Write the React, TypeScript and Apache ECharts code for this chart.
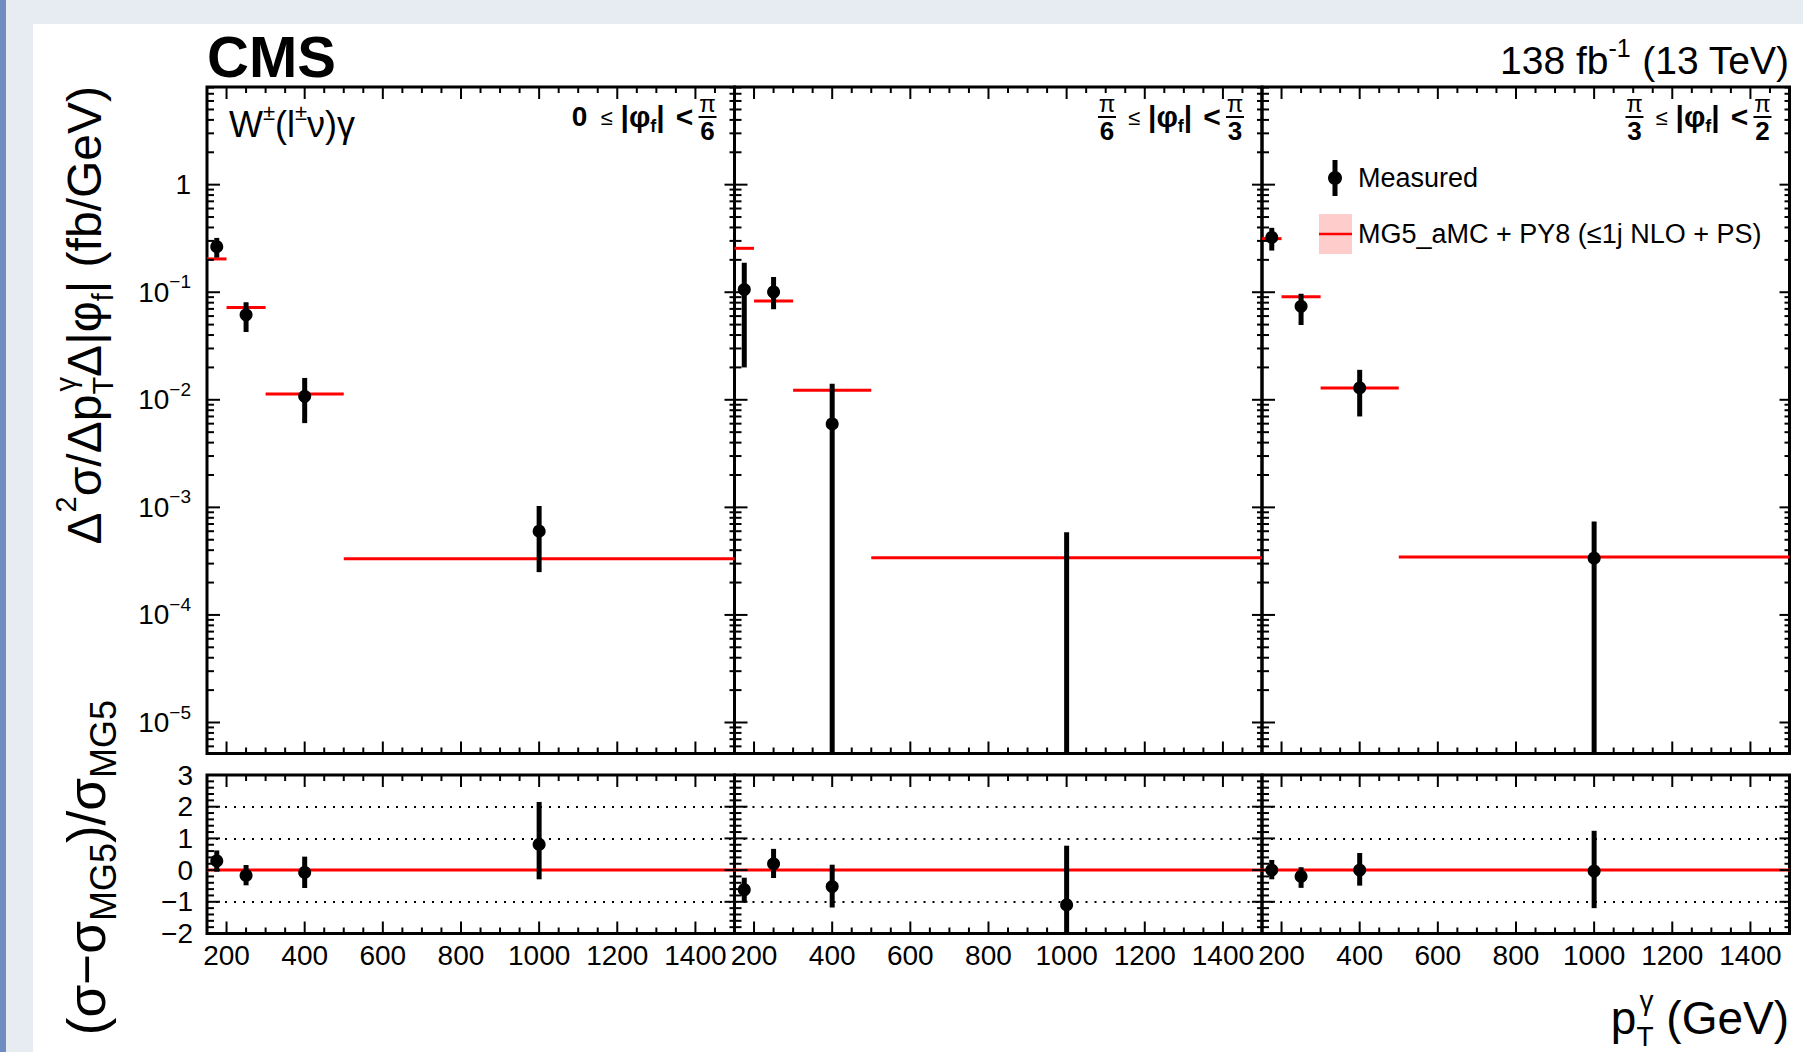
import React, { useEffect, useRef } from 'react';
import * as echarts from 'echarts';

const FONT = '"Liberation Sans", Arial, Helvetica, sans-serif';

// ---------- data ----------
const binEdges = [150, 200, 300, 500, 1500];
const binCenters = [175, 250, 400, 1000];
const xTickLabels = [200, 400, 600, 800, 1000, 1200, 1400];
const yDecades = [1e-5, 1e-4, 1e-3, 1e-2, 1e-1, 1];
const ratioTickLabels = [-2, -1, 0, 1, 2, 3];

const X_MIN = 150, X_MAX = 1500;
const Y_MIN = 5.15e-6, Y_MAX = 8.09;
const R_MIN = -2, R_MAX = 3;

// panel 1 : 0 <= |phi_f| < pi/6
const mc1 = [0.204, 0.072, 0.01135, 3.33e-4];
const meas1 = [0.265, 0.0617, 0.01077, 6.0e-4];
const measUp1 = [0.055, 0.019, 0.0052, 4.3e-4];
const measDn1 = [0.055, 0.019, 0.0047, 3.5e-4];
const ratio1 = [0.29, -0.17, -0.075, 0.81];
const ratioUp1 = [0.33, 0.33, 0.5, 1.34];
const ratioDn1 = [0.34, 0.31, 0.49, 1.1];

// panel 2 : pi/6 <= |phi_f| < pi/3
const mc2 = [0.256, 0.083, 0.01225, 3.41e-4];
const meas2 = [0.106, 0.1005, 0.00597, -3.4e-5];
const measUp2 = [0.082, 0.038, 0.0081, 6.2e-4];
const measDn2 = [0.086, 0.031, 0.0081, 6.2e-4];
const ratio2 = [-0.62, 0.2, -0.52, -1.1];
const ratioUp2 = [0.38, 0.47, 0.69, 1.87];
const ratioDn2 = [0.37, 0.45, 0.66, 1.87];

// panel 3 : pi/3 <= |phi_f| < pi/2
const mc3 = [0.315, 0.0908, 0.0129, 3.45e-4];
const meas3 = [0.323, 0.074, 0.0129, 3.37e-4];
const measUp3 = [0.074, 0.0228, 0.0061, 4.0e-4];
const measDn3 = [0.079, 0.0244, 0.0059, 4.0e-4];
const ratio3 = [0.0, -0.2, 0.0, -0.03];
const ratioUp3 = [0.32, 0.29, 0.54, 1.27];
const ratioDn3 = [0.29, 0.36, 0.49, 1.17];

const panelFracLeft = [null, '6', '3'];
const panelFracRight = ['6', '3', '2'];

const panels = [
  { mc: mc1, meas: meas1, up: measUp1, dn: measDn1, r: ratio1, rUp: ratioUp1, rDn: ratioDn1 },
  { mc: mc2, meas: meas2, up: measUp2, dn: measDn2, r: ratio2, rUp: ratioUp2, rDn: ratioDn2 },
  { mc: mc3, meas: meas3, up: measUp3, dn: measDn3, r: ratio3, rUp: ratioUp3, rDn: ratioDn3 },
];

// ---------- layout ----------
const PANEL_LEFT = [207, 734.5, 1262];
const PANEL_W = 527.5;
const MAIN_TOP = 87, MAIN_H = 666.5;
const RATIO_TOP = 775, RATIO_H = 158.5;

const TICK_LEN = [13, 7, 10, 5, 12, 6, 12, 6];

function tickRender(params: any, api: any) {
  const k = api.value(2);
  const p = api.coord([api.value(0), api.value(1)]);
  let dx = 0, dy = 0;
  if (k === 0 || k === 1) dx = TICK_LEN[k];
  else if (k === 2 || k === 3) dx = -TICK_LEN[k];
  else if (k === 4 || k === 5) dy = -TICK_LEN[k];
  else dy = TICK_LEN[k];
  return {
    type: 'line',
    shape: { x1: p[0], y1: p[1], x2: p[0] + dx, y2: p[1] + dy },
    style: { stroke: '#000', lineWidth: 2 },
  };
}

function errRender(yMin: number, yMax: number) {
  return (params: any, api: any) => {
    const x = api.value(0), lo = api.value(1), hi = api.value(2), y = api.value(3);
    const a = api.coord([x, lo]);
    const b = api.coord([x, hi]);
    const children: any[] = [
      { type: 'line', shape: { x1: a[0], y1: a[1], x2: b[0], y2: b[1] }, style: { stroke: '#000', lineWidth: 5 } },
    ];
    if (y > yMin && y < yMax) {
      const c = api.coord([x, y]);
      children.push({ type: 'circle', shape: { cx: c[0], cy: c[1], r: 6.5 }, style: { fill: '#000' } });
    }
    return { type: 'group', children };
  };
}

function mcRender(params: any, api: any) {
  const v = api.value(2);
  const a = api.coord([api.value(0), v]);
  const b = api.coord([api.value(1), v]);
  return {
    type: 'line',
    shape: { x1: a[0], y1: a[1], x2: b[0], y2: b[1] },
    style: { stroke: '#ff0000', lineWidth: 3 },
  };
}

function xTicks(yBottom: number, yTop: number) {
  const out: number[][] = [];
  for (let v = X_MIN; v <= X_MAX; v += 50) {
    const major = v % 200 === 0;
    out.push([v, yBottom, major ? 4 : 5]);
    out.push([v, yTop, major ? 6 : 7]);
  }
  return out;
}

function mainTicks() {
  const out = xTicks(Y_MIN, Y_MAX);
  for (let e = -6; e <= 0; e++) {
    for (let k = 1; k <= 9; k++) {
      const v = k * Math.pow(10, e);
      if (v <= Y_MIN || v >= Y_MAX) continue;
      const major = k === 1;
      out.push([X_MIN, v, major ? 0 : 1]);
      out.push([X_MAX, v, major ? 2 : 3]);
    }
  }
  return out;
}

function ratioTicks() {
  const out = xTicks(R_MIN, R_MAX);
  for (let j = R_MIN * 5; j <= R_MAX * 5; j++) {
    const v = j / 5;
    const major = j % 5 === 0;
    out.push([X_MIN, v, major ? 0 : 1]);
    out.push([X_MAX, v, major ? 2 : 3]);
  }
  return out;
}

const supStyle = (fs: number) => ({ fontSize: fs, fontFamily: FONT, verticalAlign: 'top', lineHeight: fs, fill: '#000' });
const subStyle = (fs: number) => ({ fontSize: fs, fontFamily: FONT, verticalAlign: 'bottom', lineHeight: fs, fill: '#000' });

function fracEls(cx: number, num: string, den: string) {
  return [
    { type: 'text', x: cx, y: 103, style: { text: num, align: 'center', verticalAlign: 'middle', fontSize: 24, fontFamily: FONT, fill: '#000' } },
    { type: 'line', shape: { x1: cx - 9, y1: 117, x2: cx + 9, y2: 117 }, style: { stroke: '#000', lineWidth: 2 } },
    { type: 'text', x: cx, y: 131, style: { text: den, align: 'center', verticalAlign: 'middle', fontSize: 26, fontWeight: 'bold', fontFamily: FONT, fill: '#000' } },
  ];
}

function phiLabel(p: number) {
  const R0 = PANEL_LEFT[p] + PANEL_W;
  const els: any[] = [];
  const lf = panelFracLeft[p];
  if (lf === null) {
    els.push({ type: 'text', x: R0 - 155, y: 116, style: { text: '0', align: 'center', verticalAlign: 'middle', fontSize: 28, fontWeight: 'bold', fontFamily: FONT, fill: '#000' } });
  } else {
    els.push(...fracEls(R0 - 155, 'π', lf));
  }
  els.push({ type: 'text', x: R0 - 128, y: 117, style: { text: '≤', align: 'center', verticalAlign: 'middle', fontSize: 22, fontFamily: FONT, fill: '#000' } });
  els.push({
    type: 'text', x: R0 - 114, y: 116,
    style: {
      text: '|φ{sub|f}|', align: 'left', verticalAlign: 'middle', fontSize: 30, fontWeight: 'bold', fontFamily: FONT, fill: '#000', lineHeight: 38,
      rich: { sub: { ...subStyle(18), fontWeight: 'bold' } },
    },
  });
  els.push({ type: 'text', x: R0 - 50, y: 116, style: { text: '<', align: 'center', verticalAlign: 'middle', fontSize: 30, fontWeight: 'bold', fontFamily: FONT, fill: '#000' } });
  els.push(...fracEls(R0 - 27, 'π', panelFracRight[p]));
  return els;
}

function buildOption() {
  const grid: any[] = [];
  const xAxis: any[] = [];
  const yAxis: any[] = [];
  const series: any[] = [];

  for (let p = 0; p < 3; p++) {
    grid.push({ left: PANEL_LEFT[p], top: MAIN_TOP, width: PANEL_W, height: MAIN_H, show: true, borderColor: '#000', borderWidth: 3, backgroundColor: 'transparent', outerBoundsMode: 'none', containLabel: false });
  }
  for (let p = 0; p < 3; p++) {
    grid.push({ left: PANEL_LEFT[p], top: RATIO_TOP, width: PANEL_W, height: RATIO_H, show: true, borderColor: '#000', borderWidth: 3, backgroundColor: 'transparent', outerBoundsMode: 'none', containLabel: false });
  }

  for (let i = 0; i < 6; i++) {
    xAxis.push({
      type: 'value', gridIndex: i, min: X_MIN, max: X_MAX, interval: 50,
      axisLine: { show: false }, axisTick: { show: false }, splitLine: { show: false },
      axisLabel: i >= 3 ? {
        show: true, margin: 8, fontSize: 28, fontFamily: FONT, color: '#000',
        formatter: (v: number) => (xTickLabels.indexOf(v) >= 0 ? String(v) : ''),
      } : { show: false },
    });
  }

  for (let p = 0; p < 3; p++) {
    yAxis.push({
      type: 'log', logBase: 10, gridIndex: p, min: Y_MIN, max: Y_MAX,
      axisLine: { show: false }, axisTick: { show: false }, splitLine: { show: false },
      axisLabel: p === 0 ? {
        show: true, margin: 16, fontSize: 28, fontFamily: FONT, color: '#000', lineHeight: 40,
        formatter: (v: number) => {
          const lg = Math.log10(v);
          const e = Math.round(lg);
          if (Math.abs(lg - e) > 1e-6) return '';
          const dec = yDecades.find((d) => Math.abs(Math.log10(d) - e) < 1e-6);
          if (dec === undefined) return '';
          if (e === 0) return '1';
          return '10{sup|−' + -e + '}';
        },
        rich: { sup: { fontSize: 19, fontFamily: FONT, verticalAlign: 'top', lineHeight: 19, color: '#000' } },
      } : { show: false },
    });
  }
  for (let p = 0; p < 3; p++) {
    yAxis.push({
      type: 'value', gridIndex: 3 + p, min: R_MIN, max: R_MAX, interval: 1,
      axisLine: { show: false }, axisTick: { show: false },
      splitLine: { show: true, lineStyle: { color: '#000', width: 2, type: [2, 7] } },
      axisLabel: p === 0 ? {
        show: true, margin: 14, fontSize: 28, fontFamily: FONT, color: '#000',
        formatter: (v: number) => {
          if (ratioTickLabels.indexOf(v) < 0) return '';
          return v < 0 ? '−' + Math.abs(v) : String(v);
        },
      } : { show: false },
    });
  }

  for (let p = 0; p < 3; p++) {
    const d = panels[p];
    series.push({ type: 'custom', xAxisIndex: p, yAxisIndex: p, renderItem: tickRender, data: mainTicks(), encode: { x: 0, y: 1 }, silent: true, z: 5 });
    series.push({ type: 'custom', xAxisIndex: 3 + p, yAxisIndex: 3 + p, renderItem: tickRender, data: ratioTicks(), encode: { x: 0, y: 1 }, silent: true, z: 5 });
    series.push({
      type: 'custom', name: 'MG5_aMC + PY8 (≤1j NLO + PS)', xAxisIndex: p, yAxisIndex: p, renderItem: mcRender,
      data: d.mc.map((v, i) => [binEdges[i], binEdges[i + 1], v]), encode: { x: [0, 1], y: 2 }, z: 3,
    });
    series.push({
      type: 'custom', name: 'Measured', xAxisIndex: p, yAxisIndex: p, renderItem: errRender(Y_MIN, Y_MAX),
      data: d.meas.map((v, i) => [
        binCenters[i],
        Math.max(v - d.dn[i], Y_MIN),
        Math.min(v + d.up[i], Y_MAX),
        v,
      ]),
      encode: { x: 0, y: [1, 2] }, z: 4,
    });
    series.push({
      type: 'line', xAxisIndex: 3 + p, yAxisIndex: 3 + p, data: [[X_MIN, 0], [X_MAX, 0]],
      symbol: 'none', lineStyle: { color: '#ff0000', width: 3 }, z: 3, silent: true,
    });
    series.push({
      type: 'custom', xAxisIndex: 3 + p, yAxisIndex: 3 + p, renderItem: errRender(R_MIN, R_MAX),
      data: d.r.map((v, i) => [
        binCenters[i],
        Math.max(v - d.rDn[i], R_MIN),
        Math.min(v + d.rUp[i], R_MAX),
        v,
      ]),
      encode: { x: 0, y: [1, 2] }, z: 4,
    });
  }

  const graphic: any[] = [
    { type: 'text', x: 207, y: 56, style: { text: 'CMS', align: 'left', verticalAlign: 'middle', fontSize: 58, fontWeight: 'bold', fontFamily: FONT, fill: '#000' } },
    {
      type: 'text', x: 1789, y: 60,
      style: {
        text: '138 fb{sup|-1} (13 TeV)', align: 'right', verticalAlign: 'middle', fontSize: 39, fontFamily: FONT, fill: '#000', lineHeight: 50,
        rich: { sup: supStyle(25) },
      },
    },
    {
      type: 'text', x: 229, y: 124,
      style: {
        text: 'W{sup|±}(l{sup|±}ν)γ', align: 'left', verticalAlign: 'middle', fontSize: 36, fontFamily: FONT, fill: '#000', lineHeight: 46,
        rich: { sup: supStyle(22) },
      },
    },
    ...phiLabel(0), ...phiLabel(1), ...phiLabel(2),
    // legend
    { type: 'line', shape: { x1: 1335, y1: 160, x2: 1335, y2: 196 }, style: { stroke: '#000', lineWidth: 5 } },
    { type: 'circle', shape: { cx: 1335, cy: 178, r: 7 }, style: { fill: '#000' } },
    { type: 'text', x: 1358, y: 178, style: { text: 'Measured', align: 'left', verticalAlign: 'middle', fontSize: 27, fontFamily: FONT, fill: '#000' } },
    { type: 'rect', shape: { x: 1319, y: 214, width: 33, height: 40 }, style: { fill: '#ffcccc' } },
    { type: 'line', shape: { x1: 1319, y1: 234, x2: 1352, y2: 234 }, style: { stroke: '#ff0000', lineWidth: 2.5 } },
    { type: 'text', x: 1358, y: 234, style: { text: 'MG5_aMC + PY8 (≤1j NLO + PS)', align: 'left', verticalAlign: 'middle', fontSize: 27, fontFamily: FONT, fill: '#000' } },
    // axis titles
    {
      type: 'text', x: 84, y: 86, rotation: Math.PI / 2,
      style: {
        text: 'Δ{sup|2}σ/Δp{sub|T}{supG|γ}Δ|φ{sub|f}| (fb/GeV)', align: 'right', verticalAlign: 'middle',
        fontSize: 48, fontFamily: FONT, fill: '#000', lineHeight: 66,
        rich: { sup: supStyle(29), sub: subStyle(29), supG: { ...supStyle(29), width: 0 } },
      },
    },
    {
      type: 'text', x: 86, y: 700, rotation: Math.PI / 2,
      style: {
        text: '(σ−σ{sub|MG5})/σ{sub|MG5}', align: 'right', verticalAlign: 'middle',
        fontSize: 53, fontFamily: FONT, fill: '#000', lineHeight: 71,
        rich: { sub: subStyle(36) },
      },
    },
    {
      type: 'text', x: 1789, y: 1018,
      style: {
        text: 'p{sub|T}{supG|γ} (GeV)', align: 'right', verticalAlign: 'middle',
        fontSize: 46, fontFamily: FONT, fill: '#000', lineHeight: 64,
        rich: { sub: subStyle(28), supG: { ...supStyle(28), width: 0 } },
      },
    },
  ];

  return {
    animation: false,
    textStyle: { fontFamily: FONT },
    grid, xAxis, yAxis, series, graphic,
  };
}

export default function App() {
  const ref = useRef<HTMLDivElement>(null);
  useEffect(() => {
    if (!ref.current) return;
    const chart = echarts.init(ref.current, undefined, { renderer: 'svg', width: 1803, height: 1052 });
    chart.setOption(buildOption() as any);
    return () => chart.dispose();
  }, []);
  return (
    <div style={{ position: 'fixed', left: 0, top: 0, width: 1803, height: 1052, background: '#e7ebf2', overflow: 'hidden' }}>
      <div style={{ position: 'absolute', left: 0, top: 0, width: 6, height: 1052, background: '#6f8dc0' }} />
      <div style={{ position: 'absolute', left: 33, top: 24, width: 1803 - 33, height: 1052 - 24, background: '#ffffff' }} />
      <div ref={ref} style={{ position: 'absolute', left: 0, top: 0, width: 1803, height: 1052 }} />
    </div>
  );
}
